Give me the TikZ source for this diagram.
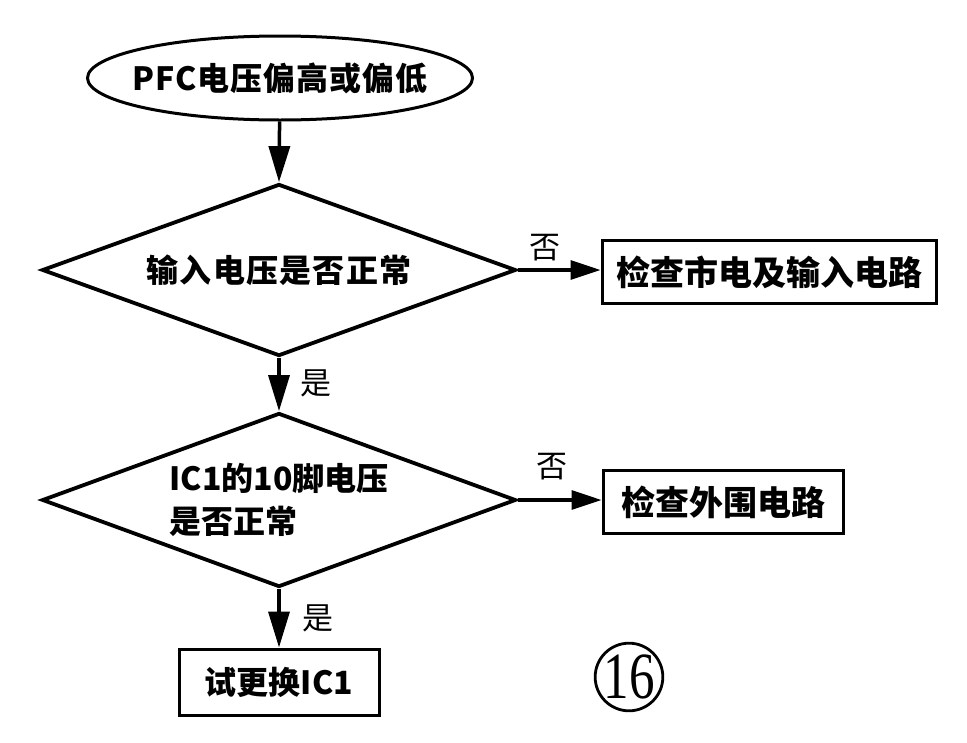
\documentclass[tikz,border=0pt]{standalone}
\usepackage{fontspec}
\setmainfont{Noto Sans CJK SC}
\newfontfamily\numfont{Liberation Serif}
\usetikzlibrary{shapes.geometric,arrows.meta}
\tikzset{
  txtb/.style={font=\bfseries\fontsize{32}{43}\selectfont},
  startshape/.style={ellipse, draw, line width=3pt, inner sep=0pt, minimum width=385pt, minimum height=84pt, txtb},
  decision/.style={diamond, draw, line width=3.8pt, inner sep=0pt, aspect=2.7, txtb},
  procbox/.style={rectangle, draw, line width=3pt, inner sep=0pt, txtb},
  arr/.style={line width=3.5pt, -{Triangle[length=36pt,width=21pt]}},
  harr/.style={line width=3.2pt, -{Triangle[length=30pt,width=19pt]}},
  lbl/.style={font=\fontsize{31}{32}\selectfont, inner sep=0pt},
}
\begin{document}
\begin{tikzpicture}[x=1pt,y=-1pt]
\useasboundingbox[fill=white] (0,0) rectangle (967,742);

\node[startshape] (start) at (280,78) {\makebox[0pt]{\addfontfeatures{LetterSpace=3}PFC电压偏高或偏低}};
\node[decision, minimum width=474pt, minimum height=172pt] (d1) at (279,270) {\addfontfeatures{LetterSpace=4}输入电压是否正常};
\node[procbox, minimum width=334pt, minimum height=63pt] (b1) at (769,272) {\fontsize{34}{43}\selectfont 检查市电及输入电路};
\node[decision, minimum width=474pt, minimum height=174pt, align=left] (d2) at (279,500)
  {\fontsize{32}{43}\selectfont IC1的10脚电压\\\fontsize{32}{43}\selectfont 是否正常};
\node[procbox, minimum width=240pt, minimum height=63pt] (b2) at (723,502) {\fontsize{34}{43}\selectfont 检查外围电路};
\node[procbox, minimum width=200pt, minimum height=66pt] (b3) at (279,682) {试更换IC1};
\node[circle, draw, line width=2.8pt, minimum size=66pt, inner sep=0pt] (fig) at (629,677)
  {\numfont\fontsize{60}{60}\selectfont\scalebox{0.85}[1.1]{16}};

\draw[arr] (start) -- (d1.north);
\draw[harr] (d1.east) -- (d1.east -| b1.west);
\draw[arr] (d1.south) -- (d2.north);
\draw[harr] (d2.east) -- (d2.east -| b2.west);
\draw[arr] (d2.south) -- (b3.north);

\node[lbl] (no1) at (545,248) {否};
\node[lbl] (no2) at (552,467) {否};
\node[lbl] (yes1) at (316,383) {是};
\node[lbl] (yes2) at (318,618) {是};
\end{tikzpicture}
\end{document}
